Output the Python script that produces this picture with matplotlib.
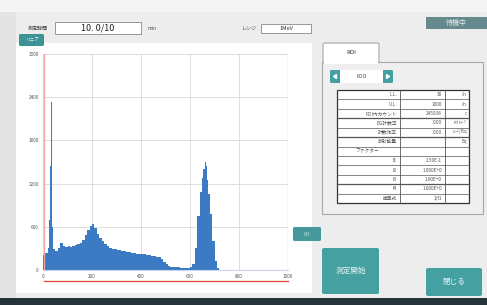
import matplotlib.pyplot as plt
import matplotlib.patches as mpatches
import matplotlib.transforms as mtrans

plt.rcParams['font.family'] = ['Noto Sans CJK JP', 'DejaVu Sans']

# スペクトルデータ (チャンネル境界とカウント)
edges = [0, 10, 20, 26, 29, 32, 36, 38, 42, 50, 60, 70, 80, 90, 100, 110, 120,
         130, 140, 150, 160, 170, 180, 190, 200, 210, 220, 230, 240, 250, 260, 270,
         280, 290, 300, 320, 340, 360, 380, 400, 420, 440, 460, 480, 490, 500, 510,
         520, 540, 560, 580, 600, 610, 620, 630, 640, 650, 655, 660, 665, 670, 675,
         680, 690, 700, 710, 720, 1000]
counts = [210, 230, 300, 700, 1450, 2340, 1300, 600, 290, 270, 300, 380, 330,
          320, 330, 325, 335, 345, 355, 380, 420, 480, 550, 610, 635, 590, 500, 440,
          400, 365, 335, 310, 295, 285, 278, 268, 255, 240, 228, 218, 210, 200, 185,
          150, 115, 80, 58, 45, 38, 34, 32, 40, 80, 300, 750, 1080, 1280, 1400, 1500,
          1440, 1250, 1050, 780, 400, 120, 25, 0]

x_ticks = [0, 200, 400, 600, 800, 1000]
y_ticks = [0, 600, 1200, 1800, 2400, 3000]
roi_range = [5, 1000]

# 右側のROIテーブル
row_labels = ['L.L.', 'U.L.', 'ROI内カウント', 'BG計数率', '計数効率', '放射能量',
              'ファクター', 'f1', 'f2', 'f3', 'f4', '換算式']
row_values = ['30', '1000', '245038', '0.00', '0.00', '', '',
              '2.50E-1', '1.000E+0', '1.00E+0', '1.000E+0', '1/f1']
row_units = ['ch', 'ch', 'c', 'min$^{-1}$', 's$^{-1}$/Bq', 'Bq', '', '', '', '', '', '']

TEAL = '#45a0a2'
GRAY_TXT = '#555555'

fig = plt.figure(figsize=(4.87, 3.05), dpi=100, facecolor='#f4f4f4')

# 画面全体をピクセル座標で描く
ui = fig.add_axes([0, 0, 1, 1])
ui.set_xlim(0, 487)
ui.set_ylim(305, 0)
ui.axis('off')


def box(x0, y0, x1, y1, fc, ec='none', lw=0.6, r=0, z=1):
    if r > 0:
        p = mpatches.FancyBboxPatch((x0, y0), x1 - x0, y1 - y0,
                                    boxstyle=f'round,pad=0,rounding_size={r}',
                                    fc=fc, ec=ec, lw=lw, zorder=z)
    else:
        p = mpatches.Rectangle((x0, y0), x1 - x0, y1 - y0, fc=fc, ec=ec, lw=lw, zorder=z)
    ui.add_patch(p)


# ウィンドウと各パネル
box(0, 12, 16, 298, '#e4e4e4')
box(16, 12, 487, 298, '#ededed')
box(16, 43, 312, 293, 'white')
box(0, 298, 487, 305, '#26343a', z=3)

# 上部: 測定時間とレンジ
ui.text(28, 28, '測定時間', fontsize=3.6, color='#333', va='center')
box(55, 22, 141, 34, 'white', ec='#888', lw=0.6)
ui.text(98, 28, '10. 0/10', fontsize=6.5, color='#222', ha='center', va='center')
ui.text(147, 29, 'min', fontsize=3.5, color='#444', va='center')
ui.text(242, 29, 'レンジ', fontsize=3.6, color='#444', va='center')
box(261, 24, 311, 33, 'white', ec='#888', lw=0.6)
ui.text(286, 28.5, '1MeV', fontsize=4, color='#333', ha='center', va='center')

box(19, 34, 44, 46, '#3d9295', r=1.5, z=2)
ui.text(31.5, 40, 'リニア', fontsize=3.3, color='#e8f4f4', ha='center', va='center', zorder=3)

# 状態表示
box(426, 17, 487, 29, '#66898e')
ui.text(456, 23, '待機中', fontsize=5, color='#e6eeee', ha='center', va='center')

# ROIタブとパネル
box(322, 62, 483, 214, '#efefef', ec='#a8a8a8', lw=0.8)
box(323, 43, 379, 63, 'white', ec='#a8a8a8', lw=0.8, r=2)
box(324, 58, 378, 64, 'white', z=2)
ui.text(351, 52, 'ROI', fontsize=4.2, color='#333', ha='center', va='center')

box(330, 70, 393, 83, TEAL, r=1.5)
box(340, 70, 383, 83, 'white')
ui.text(361.5, 76.5, 'ROI3', fontsize=3.4, color='#444', ha='center', va='center')
ui.fill([333.5, 336.5, 336.5], [76.5, 74.5, 78.5], color='white')
ui.fill([389.5, 386.5, 386.5], [76.5, 74.5, 78.5], color='white')

# テーブル
tx0, tx1, tx2, tx3 = 337, 400, 445, 469
ty0, ty1 = 90, 203
rh = (ty1 - ty0) / len(row_labels)
box(tx0, ty0, tx3, ty1, 'white', ec='#333', lw=0.9, z=2)
for i in range(1, len(row_labels)):
    yy = ty0 + i * rh
    lw = 0.9 if i in (3, 5, 10) else 0.5
    ui.plot([tx0, tx3], [yy, yy], color='#555', lw=lw, zorder=3)
for xx in (tx1, tx2):
    ui.plot([xx, xx], [ty0, ty1], color='#555', lw=0.6, zorder=3)
for i, (lab, val, unit) in enumerate(zip(row_labels, row_values, row_units)):
    yc = ty0 + (i + 0.5) * rh
    if lab == 'ファクター':
        ui.text(tx0 + 18, yc, lab, fontsize=3.4, color=GRAY_TXT, ha='left', va='center', zorder=4)
    else:
        ui.text(tx1 - 3, yc, lab, fontsize=3.4, color=GRAY_TXT, ha='right', va='center', zorder=4)
    ui.text(tx2 - 3, yc, val, fontsize=3.4, color=GRAY_TXT, ha='right', va='center', zorder=4)
    ui.text(tx3 - 2, yc, unit, fontsize=3.1, color=GRAY_TXT, ha='right', va='center', zorder=4)

# ボタン
box(293, 227, 321, 241, '#43999b', r=1.5, z=2)
ui.text(307, 234, 'CH', fontsize=3.5, color='#d8eeee', ha='center', va='center', zorder=3)
box(322, 248, 379, 294, TEAL, r=2, z=2)
ui.text(350.5, 271, '測定開始', fontsize=5.5, color='#e4f2f2', ha='center', va='center', zorder=3)
box(426, 268, 482, 296, TEAL, r=2, z=2)
ui.text(454, 282, '閉じる', fontsize=5.5, color='#e4f2f2', ha='center', va='center', zorder=3)

# スペクトル
ax = fig.add_axes([43 / 487, 35 / 305, 245 / 487, 216 / 305])
ax.set_facecolor('white')
ax.stairs(counts, edges, fill=True, color='#3c7bc4', zorder=2)
ax.set_xlim(0, 1000)
ax.set_ylim(0, 3000)
ax.set_xticks(x_ticks)
ax.set_yticks(y_ticks)
ax.tick_params(length=0, labelsize=3.3, labelcolor=GRAY_TXT, pad=3)
ax.grid(True, color='#d8d8d8', lw=0.6, zorder=0)
for s in ('left', 'top', 'right'):
    ax.spines[s].set_visible(False)
ax.spines['bottom'].set_color('#c9d3ea')
ax.spines['bottom'].set_linewidth(0.8)
ax.axvline(roi_range[0], color='#f2a99e', lw=0.9, zorder=3)
ax.axvline(roi_range[1], color='#f2a99e', lw=0.9, zorder=3)
trans = mtrans.blended_transform_factory(ax.transData, ax.transAxes)
ax.plot(roi_range, [-0.05, -0.05], color='#e0463a', lw=0.9, transform=trans, clip_on=False)

fig.savefig('out.png', dpi=100, facecolor=fig.get_facecolor())
